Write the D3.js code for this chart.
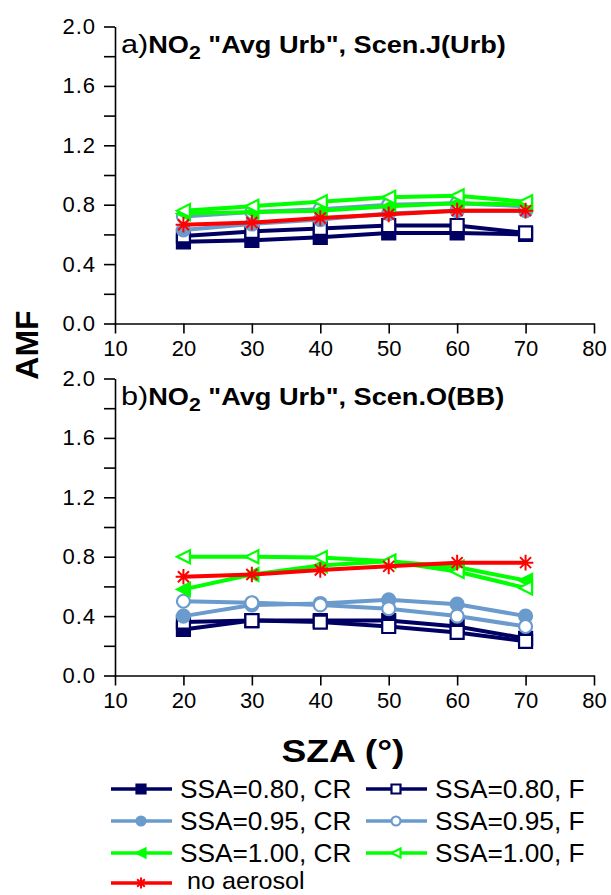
<html>
<head>
<title>NO2 AMF vs SZA</title>
<script src="https://cdn.jsdelivr.net/npm/d3@7"></script>
<style>
  body { margin: 0; background: #fff; }
  text { font-family: Arial, "Liberation Sans", sans-serif; fill: #000; }
</style>
</head>
<body>
<script>
// ---- data ----
var sza = [20, 30, 40, 50, 60, 70];
var xTicks = [10, 20, 30, 40, 50, 60, 70, 80];
var yTicks = [0.0, 0.4, 0.8, 1.2, 1.6, 2.0];
var yMinor = [0.2, 0.6, 1.0, 1.4, 1.8];
var seriesLabels = ["SSA=0.80, CR", "SSA=0.80, F", "SSA=0.95, CR", "SSA=0.95, F",
                    "SSA=1.00, CR", "SSA=1.00, F", "no aerosol"];

// a) Scen.J(Urb)
var urb_080_cr = [0.55, 0.56, 0.58, 0.61, 0.61, 0.60];
var urb_080_f  = [0.59, 0.62, 0.64, 0.66, 0.66, 0.61];
var urb_095_cr = [0.63, 0.67, 0.70, 0.74, 0.76, 0.76];
var urb_095_f  = [0.72, 0.75, 0.77, 0.80, 0.81, 0.79];
var urb_100_cr = [0.74, 0.75, 0.76, 0.79, 0.81, 0.80];
var urb_100_f  = [0.76, 0.79, 0.82, 0.85, 0.86, 0.82];
var noAerosol  = [0.665, 0.68, 0.71, 0.735, 0.76, 0.76];

// b) Scen.O(BB)
var bb_080_cr = [0.31, 0.37, 0.37, 0.37, 0.33, 0.25];
var bb_080_f  = [0.36, 0.37, 0.36, 0.33, 0.29, 0.23];
var bb_095_cr = [0.40, 0.475, 0.485, 0.51, 0.48, 0.40];
var bb_095_f  = [0.50, 0.49, 0.475, 0.45, 0.40, 0.33];
var bb_100_cr = [0.58, 0.68, 0.74, 0.77, 0.73, 0.64];
var bb_100_f  = [0.80, 0.80, 0.795, 0.77, 0.70, 0.59];

// ---- styles (same order as seriesLabels) ----
var navy = "#000063", steel = "#6b9bcc", lime = "#00ff00", red = "#ff0000";
var styles = [
  {color: navy,  shape: "square",   filled: true},
  {color: navy,  shape: "square",   filled: false},
  {color: steel, shape: "circle",   filled: true},
  {color: steel, shape: "circle",   filled: false},
  {color: lime,  shape: "triangle", filled: true},
  {color: lime,  shape: "triangle", filled: false},
  {color: red,   shape: "star",     filled: false}
];

var svg = d3.select("body").append("svg")
    .attr("width", 611).attr("height", 895);

var x = d3.scaleLinear().domain([10, 80]).range([115, 594]);

// marker path, s = half size
function marker(shape, s) {
  var p = d3.path();
  if (shape == "square") {
    p.rect(-s, -s, 2 * s, 2 * s);
  } else if (shape == "circle") {
    p.arc(0, 0, s, 0, 2 * Math.PI);
  } else if (shape == "triangle") {
    p.moveTo(-s, 0); p.lineTo(s, -s); p.lineTo(s, s); p.closePath();
  } else {
    for (var k = 0; k < 4; k++) {
      var a = k * Math.PI / 4;
      p.moveTo(-s * Math.cos(a), -s * Math.sin(a));
      p.lineTo(s * Math.cos(a), s * Math.sin(a));
    }
  }
  return p.toString();
}

function drawMarker(g, st, cx, cy, s) {
  g.append("path")
    .attr("d", marker(st.shape, st.shape == "star" ? s * 1.2 : s))
    .attr("transform", "translate(" + cx + "," + cy + ")")
    .attr("fill", st.shape == "star" ? "none" : (st.filled ? st.color : "#fff"))
    .attr("stroke", st.color)
    .attr("stroke-width", st.shape == "star" ? 2 : 2.2);
}

function drawPanel(top, bottom, letter, scen, series) {
  var y = d3.scaleLinear().domain([0, 2]).range([bottom, top]);
  var g = svg.append("g");

  var yAxis = g.append("g").attr("transform", "translate(115,0)")
    .call(d3.axisLeft(y).tickValues(yTicks.concat(yMinor)).tickSize(11).tickSizeOuter(0).tickPadding(8)
      .tickFormat(function(d) { return yTicks.indexOf(d) >= 0 ? d.toFixed(1) : ""; }));
  var xAxis = g.append("g").attr("transform", "translate(0," + bottom + ")")
    .call(d3.axisBottom(x).tickValues(xTicks).tickSize(10).tickSizeOuter(0).tickPadding(7));
  [yAxis, xAxis].forEach(function(a) {
    a.selectAll("path, line").attr("stroke", "#000").attr("stroke-width", 1.6);
    a.selectAll("text").style("font-size", "22px").attr("fill", "#000");
  });
  yAxis.selectAll("text").style("letter-spacing", "1px");

  var line = d3.line().x(function(d, i) { return x(sza[i]); }).y(function(d) { return y(d); });
  series.forEach(function(vals, si) {
    var st = styles[si];
    g.append("path").datum(vals)
      .attr("d", line).attr("fill", "none")
      .attr("stroke", st.color).attr("stroke-width", 4);
    vals.forEach(function(v, i) {
      drawMarker(g, st, x(sza[i]), y(v), 6.5);
    });
  });

  var t = g.append("text").attr("transform", "translate(121," + (top + 26) + ") scale(1.18,1)");
  t.append("tspan").style("font-size", "26px").text(letter);
  t.append("tspan").style("font-size", "23px").style("font-weight", "bold").text("NO");
  t.append("tspan").style("font-size", "18px").style("font-weight", "bold").attr("dy", 6).text("2");
  t.append("tspan").style("font-size", "23px").style("font-weight", "bold").attr("dy", -6)
    .text(" \"Avg Urb\", " + scen);
}

drawPanel(26.5, 323.5, "a)", "Scen.J(Urb)",
  [urb_080_cr, urb_080_f, urb_095_cr, urb_095_f, urb_100_cr, urb_100_f, noAerosol]);
drawPanel(378.5, 675.5, "b)", "Scen.O(BB)",
  [bb_080_cr, bb_080_f, bb_095_cr, bb_095_f, bb_100_cr, bb_100_f, noAerosol]);

// axis titles
svg.append("text")
  .attr("transform", "translate(38,345) rotate(-90)")
  .attr("text-anchor", "middle")
  .style("font-size", "32px").style("font-weight", "bold")
  .text("AMF");
svg.append("text")
  .attr("transform", "translate(343,762) scale(1.2,1)")
  .attr("text-anchor", "middle")
  .style("font-size", "31px").style("font-weight", "bold")
  .text("SZA (°)");

// legend
var legendRows = [789, 821, 853, 883];
seriesLabels.forEach(function(lbl, i) {
  var col = i == 6 ? 0 : i % 2;
  var row = Math.floor(i / 2);
  var x0 = col == 0 ? 111 : 366;
  var ly = legendRows[row];
  var st = styles[i];
  var lg = svg.append("g");
  lg.append("line").attr("x1", x0).attr("x2", x0 + 61).attr("y1", ly).attr("y2", ly)
    .attr("stroke", st.color).attr("stroke-width", 3.5);
  drawMarker(lg, st, x0 + 30, ly, 4.5);
  lg.append("text").attr("transform", "translate(" + (i == 6 ? x0 + 76 : x0 + 69) + "," + (ly + (i == 6 ? 6 : 9)) + ") scale(1.05,1)")
    .style("font-size", i == 6 ? "24px" : "25px").text(lbl);
});
</script>
</body>
</html>
